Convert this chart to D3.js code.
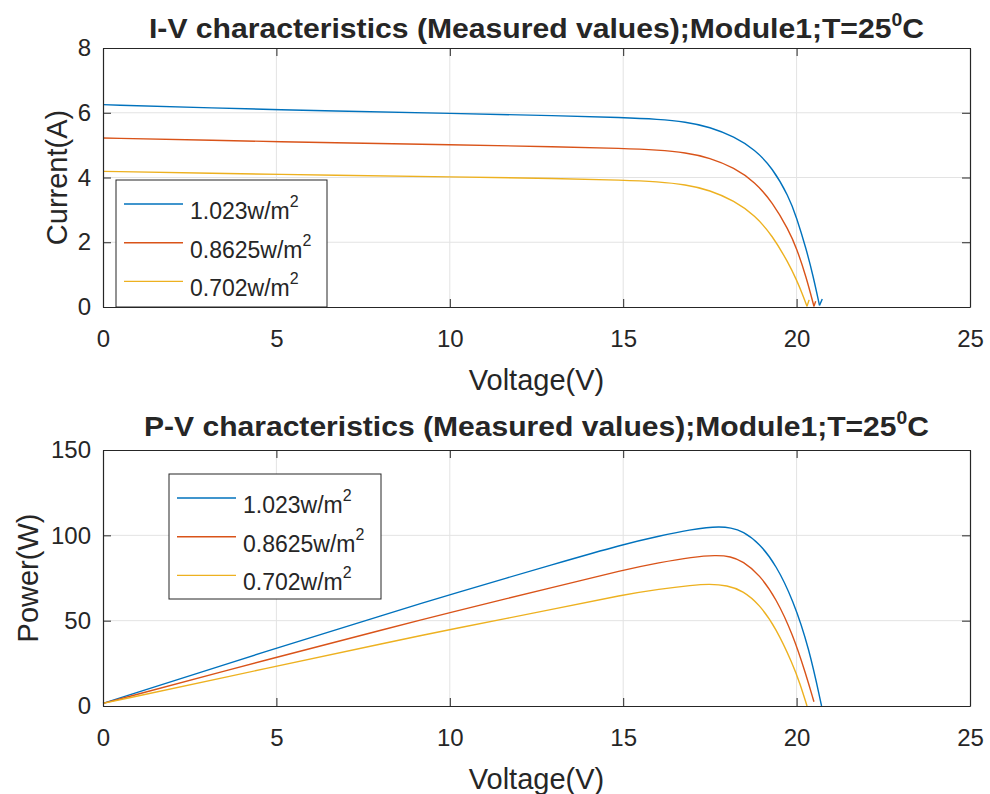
<!DOCTYPE html>
<html>
<head>
<meta charset="utf-8">
<script src="https://cdn.jsdelivr.net/npm/d3@7"></script>
<style>
  html, body { margin: 0; padding: 0; background: #fff; }
  svg { display: block; }
  text { font-family: "Liberation Sans", Arial, sans-serif; fill: #262626; }
</style>
</head>
<body>
<svg id="chart" width="990" height="794"></svg>
<script>
// ---------- DATA ----------
const seriesNames = ["1.023w/m", "0.8625w/m", "0.702w/m"];
const seriesColors = ["#0072BD", "#D95319", "#EDB120"];

const xTicks = [0, 5, 10, 15, 20, 25];
const ivTicks = [0, 2, 4, 6, 8];
const pvTicks = [0, 50, 100, 150];

// I-V (measured) : voltage (V) and current (A)
const ivVoltage1 = [0, 3, 6.82, 10, 13.16, 15, 16, 16.8, 17.5, 18.2, 18.8, 19.3, 19.77, 20.0, 20.28, 20.47, 20.66, 20.74];
const ivCurrent1 = [6.25, 6.15, 6.05, 5.98, 5.91, 5.85, 5.80, 5.72, 5.56, 5.26, 4.86, 4.30, 3.42, 2.77, 1.78, 0.99, 0.05, 0.25];
const ivVoltage2 = [0, 3, 6.82, 10, 13.16, 15, 16, 16.8, 17.5, 18.2, 18.8, 19.3, 19.77, 20.0, 20.28, 20.5, 20.55];
const ivCurrent2 = [5.22, 5.15, 5.07, 5.01, 4.95, 4.90, 4.85, 4.77, 4.61, 4.30, 3.86, 3.24, 2.38, 1.82, 0.92, 0.02, 0.18];
const ivVoltage3 = [0, 3, 6.82, 10, 13.16, 15, 16, 16.8, 17.5, 18.2, 18.8, 19.3, 19.77, 20.0, 20.15, 20.3, 20.36];
const ivCurrent3 = [4.19, 4.13, 4.07, 4.02, 3.97, 3.92, 3.87, 3.78, 3.61, 3.28, 2.83, 2.21, 1.35, 0.83, 0.45, 0.02, 0.22];

// P-V (measured) : voltage (V) and power (W)
const pvVoltage1 = [0, 5, 8.27, 10, 13.16, 15, 16.04, 17.0, 17.4, 17.77, 18.1, 18.45, 18.93, 19.41, 19.89, 20.36, 20.72];
const pvPower1   = [1.5, 34, 54.4, 65.3, 84.0, 94.7, 99.6, 103.5, 104.6, 105.0, 104.5, 102.5, 95.3, 82.5, 62.5, 34.0, 0];
const pvVoltage2 = [0, 5, 8.27, 10, 13.16, 15, 16.04, 17.0, 17.67, 18.1, 18.45, 18.93, 19.41, 19.89, 20.27, 20.5];
const pvPower2   = [1.5, 28.6, 45.7, 54.8, 70.4, 79.7, 84.0, 87.3, 88.4, 87.7, 84.8, 77.0, 63.0, 42.0, 18.5, 2.5];
const pvVoltage3 = [0, 5, 8.27, 10, 13.16, 15, 16.04, 17.0, 17.48, 18.0, 18.45, 18.93, 19.41, 19.89, 20.1, 20.3];
const pvPower3   = [1.5, 23.3, 37.5, 44.8, 57.4, 65.2, 68.5, 70.8, 71.5, 70.7, 67.5, 59.5, 45.5, 24.5, 13.0, 0];

// ---------- DRAW ----------
const svg = d3.select("#chart");
const axisColor = "#262626";
const gridColor = "#e3e3e3";

function zip(xs, ys) { return xs.map((x, i) => ({ x, y: ys[i] })); }

function panel(cfg) {
  const { left, right, top, bottom } = cfg;
  const x = d3.scaleLinear().domain([0, 25]).range([left, right]);
  const y = d3.scaleLinear().domain(cfg.yDomain).range([bottom, top]);
  const g = svg.append("g");

  // grid
  g.append("g").selectAll("line").data(xTicks.slice(1, -1)).join("line")
    .attr("x1", d => x(d)).attr("x2", d => x(d)).attr("y1", top).attr("y2", bottom)
    .attr("stroke", gridColor).attr("stroke-width", 1);
  g.append("g").selectAll("line").data(cfg.yTicks.slice(1, -1)).join("line")
    .attr("y1", d => y(d)).attr("y2", d => y(d)).attr("x1", left).attr("x2", right)
    .attr("stroke", gridColor).attr("stroke-width", 1);

  // lines: smooth spline up to the final low point, straight segment for the rebound after it
  const smooth = d3.line().x(d => x(d.x)).y(d => y(d.y)).curve(d3.curveBasis);
  const straight = d3.line().x(d => x(d.x)).y(d => y(d.y));
  cfg.series.forEach((s, i) => {
    const pts = zip(s[0], s[1]);
    let k = pts.length - 1;
    while (k > 0 && pts[k - 1].y < pts[k].y) k--;
    const main = pts.slice(0, k + 1);
    const tail = pts.slice(k);
    g.append("path").datum(main)
      .attr("d", smooth).attr("fill", "none")
      .attr("stroke", seriesColors[i]).attr("stroke-width", 1.4)
      .attr("stroke-linejoin", "round");
    if (tail.length > 1) {
      g.append("path").datum(tail)
        .attr("d", straight).attr("fill", "none")
        .attr("stroke", seriesColors[i]).attr("stroke-width", 1.4)
        .attr("stroke-linejoin", "round");
    }
  });

  // axes
  const ax = (gen, tr) => g.append("g").attr("transform", tr).call(gen)
    .call(a => a.selectAll("path, line").attr("stroke", axisColor))
    .call(a => a.selectAll("text").attr("fill", axisColor)
      .style("font-family", '"Liberation Sans", Arial, sans-serif').style("font-size", "24px"));

  ax(d3.axisBottom(x).tickValues(xTicks).tickSizeInner(-8).tickSizeOuter(0).tickPadding(23),
     `translate(0,${bottom})`);
  ax(d3.axisTop(x).tickValues(xTicks).tickSizeInner(-8).tickSizeOuter(0).tickFormat(""),
     `translate(0,${top})`);
  ax(d3.axisLeft(y).tickValues(cfg.yTicks).tickSizeInner(-8).tickSizeOuter(0).tickPadding(12),
     `translate(${left},0)`);
  ax(d3.axisRight(y).tickValues(cfg.yTicks).tickSizeInner(-8).tickSizeOuter(0).tickFormat(""),
     `translate(${right},0)`);
  g.selectAll(".domain").attr("stroke-width", 1.2);

  // title
  const t = svg.append("text")
    .attr("x", (left + right) / 2).attr("y", cfg.titleY)
    .attr("text-anchor", "middle")
    .style("font-family", '"Liberation Sans Narrow", "Liberation Sans", Arial, sans-serif')
    .style("font-weight", "bold").style("font-size", "28px")
    .attr("textLength", cfg.titleLen).attr("lengthAdjust", "spacingAndGlyphs")
    .attr("fill", "#000");
  t.append("tspan").text(cfg.title);
  t.append("tspan").text("0").style("font-size", "18px").attr("dy", -12);
  t.append("tspan").text("C").attr("dy", 12);

  // x label
  svg.append("text").attr("x", (left + right) / 2).attr("y", cfg.xLabelY)
    .attr("text-anchor", "middle").style("font-size", "29px").text("Voltage(V)");
  // y label
  svg.append("text")
    .attr("transform", `translate(${cfg.yLabelX},${(top + bottom) / 2}) rotate(-90)`)
    .attr("text-anchor", "middle").style("font-size", "29px").text(cfg.yLabel);

  // legend
  const L = cfg.legend;
  const lg = svg.append("g");
  lg.append("rect").attr("x", L.x).attr("y", L.y).attr("width", L.w).attr("height", L.h)
    .attr("fill", "#fff").attr("stroke", axisColor).attr("stroke-width", 1);
  seriesNames.forEach((name, i) => {
    const ly = L.y + L.first + i * L.step;
    lg.append("line").attr("x1", L.x + 8).attr("x2", L.x + 67).attr("y1", ly).attr("y2", ly)
      .attr("stroke", seriesColors[i]).attr("stroke-width", 1.4);
    const tx = lg.append("text").attr("x", L.x + 74).attr("y", ly + 15)
      .style("font-size", "23px").attr("fill", "#000");
    tx.append("tspan").text(name);
    tx.append("tspan").text("2").style("font-size", "16px").attr("dy", -12);
  });
}

panel({
  left: 103, right: 970, top: 48, bottom: 307,
  yDomain: [0, 8], yTicks: ivTicks,
  series: [[ivVoltage1, ivCurrent1], [ivVoltage2, ivCurrent2], [ivVoltage3, ivCurrent3]],
  title: "I-V characteristics (Measured values);Module1;T=25", titleY: 38, titleLen: 775,
  xLabelY: 390, yLabel: "Current(A)", yLabelX: 67,
  legend: { x: 116, y: 180, w: 211, h: 127, first: 24, step: 38.7 }
});

panel({
  left: 103, right: 970, top: 450, bottom: 706,
  yDomain: [0, 150], yTicks: pvTicks,
  series: [[pvVoltage1, pvPower1], [pvVoltage2, pvPower2], [pvVoltage3, pvPower3]],
  title: "P-V characteristics (Measured values);Module1;T=25", titleY: 436, titleLen: 785,
  xLabelY: 789, yLabel: "Power(W)", yLabelX: 38,
  legend: { x: 169, y: 474, w: 212, h: 125, first: 24, step: 38.7 }
});
</script>
</body>
</html>
